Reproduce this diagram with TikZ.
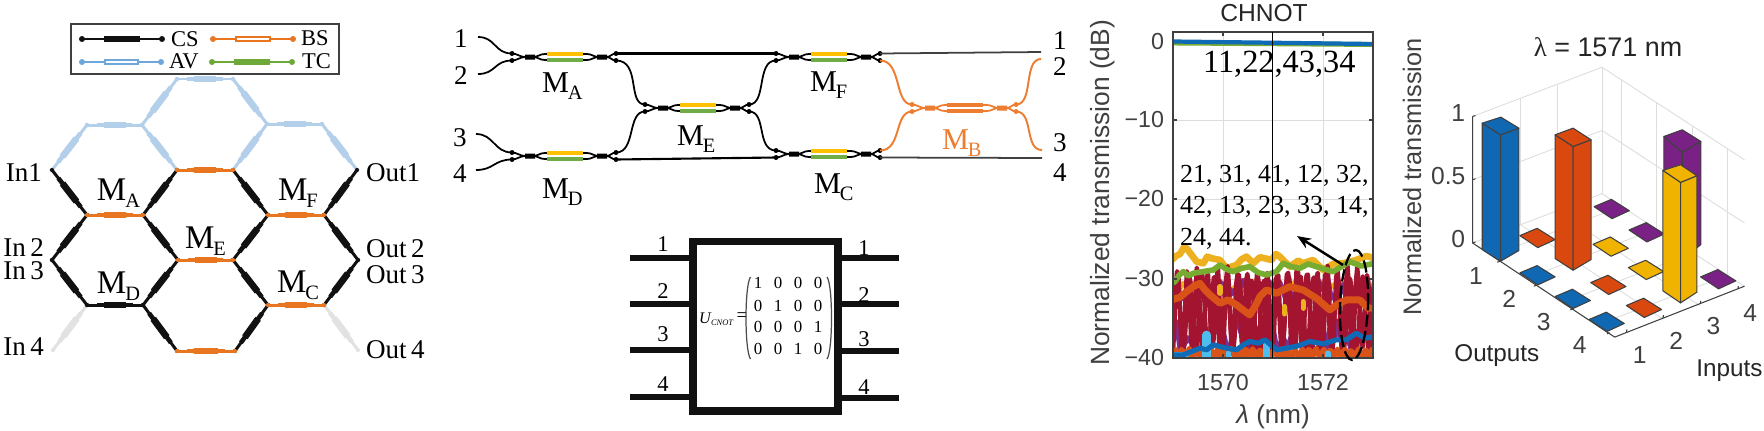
\documentclass[tikz,border=0pt]{standalone}
\usepackage{fontspec}
\setmainfont{Liberation Serif}
\setsansfont{Liberation Sans}
\usetikzlibrary{calc,arrows.meta,shapes.geometric}
\definecolor{hexblue}{HTML}{B3CFEA}
\definecolor{hexorange}{HTML}{E8751F}
\definecolor{hexgrey}{HTML}{E2E2E2}
\definecolor{hexblack}{HTML}{111111}
\definecolor{legblue}{HTML}{6FA6DC}
\definecolor{leggreen}{HTML}{6CA938}
\definecolor{armyellow}{HTML}{FFC000}
\definecolor{armgreen}{HTML}{70AD47}
\definecolor{armorange}{HTML}{ED7D31}
\definecolor{axdark}{HTML}{404040}
\definecolor{grid}{HTML}{DDDDDD}
\definecolor{tblue}{HTML}{0F6BB5}
\definecolor{tgreen}{HTML}{77AC30}
\definecolor{tyellow}{HTML}{EDB120}
\definecolor{tpurple}{HTML}{7E2F8E}
\definecolor{tred}{HTML}{A2142F}
\definecolor{torange}{HTML}{D95319}
\definecolor{tlight}{HTML}{4DBEEE}
\definecolor{bblue}{HTML}{1068B2}
\definecolor{bred}{HTML}{D8480F}
\definecolor{byellow}{HTML}{F0B400}
\definecolor{bpurple}{HTML}{7A2186}
\newcommand\fs[1]{\fontsize{#1}{#1}\selectfont}
\newcommand\msub[2]{M\kern-.3pt\lower #2\hbox{\fs{5.8}#1}}
\tikzset{
  lbl/.style={inner sep=0pt,outer sep=0pt},
  serifa/.style={lbl,font=\fs{7.7}},
  serifm/.style={lbl,font=\fs{8.6},anchor=base west},
  serifbig/.style={lbl,font=\fs{9.4},anchor=base west},
  legtxt/.style={lbl,font=\fs{6.4}},
  wire/.style={line width=.5pt,black},
  chipnum/.style={lbl,font=\fs{6.4}},
  chipwire/.style={line width=1.6pt,hexblack},
  cell/.style={lbl,font=\fs{4.8},text=black},
  sans/.style={lbl,font=\fs{6.6}\sffamily,text=axdark},
  thintick/.style={line width=.3pt,axdark},
  gridline/.style={line width=.25pt,grid},
  barface/.style={draw=axdark,line width=.3pt,line join=round},
  spec/.style={line join=round,line cap=round},
}
% hexagon mesh edge: from, to, colour
\newcommand\hexedge[3]{%
  \draw[#3,line width=.85pt] (#1) -- (#2);
  \draw[#3,line width=1.3pt] ($(#1)!.18!(#2)$) -- ($(#1)!.82!(#2)$);
  \draw[#3,line width=1.9pt] ($(#1)!.3!(#2)$) -- ($(#1)!.7!(#2)$);
  \fill[#3] (#1) circle (.6pt) (#2) circle (.6pt);}
% legend symbol: left end, right end, colour, solid or hollow
\newcommand\legsym[4]{%
  \draw[#3,line width=.7pt] (#1) -- (#2);
  \fill[#3] (#1) circle (.85pt) (#2) circle (.85pt);
  \ifx#4s
    \draw[#3,line width=1.9pt] ($(#1)!.28!(#2)$) -- ($(#1)!.72!(#2)$);
  \else
    \draw[#3,line width=1.6pt] ($(#1)!.28!(#2)$) -- ($(#1)!.72!(#2)$);
    \draw[white,line width=.65pt] ($(#1)!.3!(#2)$) -- ($(#1)!.7!(#2)$);
  \fi}
% Mach-Zehnder cell: name, x, y, line colour, top arm, bottom arm
\newcommand\mzicell[6]{%
  \begin{scope}[shift={(#2,#3)}]
    \coordinate (#1-tl) at (0,-3.5);
    \coordinate (#1-bl) at (0,3.5);
    \coordinate (#1-tr) at (104,-3.5);
    \coordinate (#1-br) at (104,3.5);
    \draw[#4,line width=.5pt] (0,-3.5) .. controls (5,-3.5) and (8,0) .. (13,0) -- (23,0)
       .. controls (26,0) and (27,-3) .. (33,-3) -- (75,-3) .. controls (80,-3) and (82,0) .. (85,0)
       -- (95,0) .. controls (98,0) and (100,-3.5) .. (104,-3.5);
    \draw[#4,line width=.5pt] (0,3.5) .. controls (5,3.5) and (8,0) .. (13,0);
    \draw[#4,line width=.5pt] (23,0) .. controls (26,0) and (27,3) .. (33,3) -- (75,3) .. controls (80,3) and (82,0) .. (85,0);
    \draw[#4,line width=.5pt] (95,0) .. controls (98,0) and (100,3.5) .. (104,3.5);
    \fill[#4] (13,-2.5) rectangle (23,2.5) (85,-2.5) rectangle (95,2.5);
    \fill[#4] (0,-3.5) circle (.7pt) (0,3.5) circle (.7pt) (104,-3.5) circle (.7pt) (104,3.5) circle (.7pt);
    \draw[#5,line width=1.1pt] (35,-3) -- (71,-3);
    \draw[#6,line width=1.1pt] (35,3) -- (71,3);
  \end{scope}}
% noisy spectrum trace in zoom units
\newcommand\trace[4]{\draw[spec,#1,line width=#2] plot[domain=0:630,samples=#3] (\x,{#4});}
% flat tile of the 3-D chart, centre in zoom units
\newcommand\tile[3]{\filldraw[barface,fill=#3] (#1-52,#2-6) -- (#1,#2-28) -- (#1+54,#2+6) -- (#1+2,#2+30) -- cycle;}
% bar: colour, left, back, right, front corners of the top, height
\newcommand\tbar[6]{%
  \filldraw[barface,fill=#1] (#2) -- (#5) -- ++(0,#6) -- ($(#2)+(0,#6)$) -- cycle;
  \filldraw[barface,fill=#1] (#5) -- (#4) -- ($(#4)+(0,#6-12)$) -- ($(#5)+(0,#6)$) -- cycle;
  \filldraw[barface,fill=#1] (#2) -- (#3) -- (#4) -- (#5) -- cycle;}
\begin{document}
\begin{tikzpicture}[x=.01cm,y=-.01cm]
\useasboundingbox (0,0) rectangle (1764,430);
\fill[white] (0,0) rectangle (1764,430);

%% ---------------- panel a: hexagon mesh
\foreach \n/\p in {T1/{177,79},T2/{233,79},
  U1/{87,125},U2/{142,125},U3/{267,124},U4/{322,124},
  V1/{52,170},V2/{177,170},V3/{233,170},V4/{357,170},
  W1/{87,215},W2/{143,215},W3/{268,215},W4/{324,215},
  X1/{52,260},X2/{178,260},X3/{233,260},X4/{358,260},
  Y1/{87,305},Y2/{143,305},Y3/{268,305},Y4/{324,305},
  Z1/{53,350},Z2/{177,351},Z3/{235,351},Z4/{358,350}}
  {\coordinate (\n) at (\p);}
\foreach \a/\b in {V1/U1,U1/U2,U2/T1,T1/T2,T2/U3,U3/U4,U4/V4,U2/V2,V3/U3}
  {\hexedge{\a}{\b}{hexblue}}
\foreach \a/\b in {Z1/Y1,Y4/Z4}
  {\hexedge{\a}{\b}{hexgrey}}
\foreach \a/\b in {V1/W1,W1/X1,W2/V2,W2/X2,V3/W3,W3/X3,W4/V4,W4/X4,X1/Y1,Y1/Y2,Y2/X2,Y2/Z2,X3/Y3,Y3/Z3,Y4/X4}
  {\hexedge{\a}{\b}{hexblack}}
\foreach \a/\b in {V2/V3,W1/W2,W3/W4,X2/X3,Y3/Y4,Z2/Z3}
  {\hexedge{\a}{\b}{hexorange}}

\node[draw=axdark,line width=.5pt,fill=white,lbl,minimum width=2.68cm,minimum height=.5cm] (legend) at (205,49) {};
\coordinate (csa) at (82,39); \coordinate (csb) at (162,39);
\coordinate (bsa) at (213,39); \coordinate (bsb) at (293,39);
\coordinate (ava) at (82,62); \coordinate (avb) at (161,62);
\coordinate (tca) at (212,62); \coordinate (tcb) at (292,62);
\legsym{csa}{csb}{hexblack}{s}
\legsym{bsa}{bsb}{hexorange}{h}
\legsym{ava}{avb}{legblue}{h}
\legsym{tca}{tcb}{leggreen}{s}
\node[legtxt,anchor=base west] (tcs) at (171,46) {CS};
\node[legtxt,anchor=base west] (tbs) at (301,45) {BS};
\node[legtxt,anchor=base west] (tav) at (169,68) {AV};
\node[legtxt,anchor=base west] (ttc) at (302,68) {TC};

\node[serifa,anchor=base east] (in1) at (42,181) {In1};
\node[serifa,anchor=base east] (in2) at (44,256) {In\,2};
\node[serifa,anchor=base east] (in3) at (44,279) {In\,3};
\node[serifa,anchor=base east] (in4) at (44,355) {In\,4};
\node[serifa,anchor=base west] (ou1) at (366,181) {Out1};
\node[serifa,anchor=base west] (ou2) at (366,257) {Out\,2};
\node[serifa,anchor=base west] (ou3) at (366,283) {Out\,3};
\node[serifa,anchor=base west] (ou4) at (366,358) {Out\,4};
\node[serifbig] (ama) at (97,200) {\msub{A}{2pt}};
\node[serifbig] (amf) at (278,200) {\msub{F}{2pt}};
\node[serifbig] (ame) at (185,248) {\msub{E}{2pt}};
\node[serifbig] (amd) at (97,293) {\msub{D}{2pt}};
\node[serifbig] (amc) at (277,292) {\msub{C}{2pt}};

%% ---------------- panel b: interferometer circuit
\mzicell{MA}{512}{57}{black}{armyellow}{armgreen}
\mzicell{MF}{776}{57}{black}{armyellow}{armgreen}
\mzicell{ME}{645}{108}{black}{armyellow}{armgreen}
\mzicell{MD}{512}{156}{black}{armyellow}{armgreen}
\mzicell{MC}{776}{154}{black}{armyellow}{armgreen}
\mzicell{MB}{912}{108}{armorange}{armorange}{armorange}
\coordinate (b1) at (478,37); \coordinate (b2) at (478,74);
\coordinate (b3) at (476,134); \coordinate (b4) at (476,170);
\coordinate (e1) at (1041,52); \coordinate (e2) at (1041,59);
\coordinate (e3) at (1042,150); \coordinate (e4) at (1042,158);
\draw[wire] (b1) .. controls +(18,0) and +(-18,0) .. (MA-tl);
\draw[wire] (b2) .. controls +(18,0) and +(-18,0) .. (MA-bl);
\draw[wire] (b3) .. controls +(18,0) and +(-18,0) .. (MD-tl);
\draw[wire] (b4) .. controls +(18,0) and +(-18,0) .. (MD-bl);
\draw[wire,line width=.6pt] (MA-tr) -- (MF-tl);
\draw[wire,line width=.6pt] (MD-br) -- (MC-bl);
\draw[wire] (MA-br) .. controls +(25,0) and +(-18,0) .. (ME-tl);
\draw[wire] (MD-tr) .. controls +(20,0) and +(-18,0) .. (ME-bl);
\draw[wire] (ME-tr) .. controls +(18,0) and +(-20,0) .. (MF-bl);
\draw[wire] (ME-br) .. controls +(18,0) and +(-20,0) .. (MC-tl);
\draw[wire,black!75] (MF-tr) -- (e1);
\draw[wire,black!75] (MC-br) -- (e4);
\draw[armorange,line width=.55pt] (MF-br) .. controls +(22,0) and +(-18,0) .. (MB-tl);
\draw[armorange,line width=.55pt] (MC-tr) .. controls +(22,0) and +(-18,0) .. (MB-bl);
\draw[armorange,line width=.55pt] (MB-tr) .. controls +(18,0) and +(-18,0) .. (e2);
\draw[armorange,line width=.55pt] (MB-br) .. controls +(18,0) and +(-18,0) .. (e3);
\foreach \n/\t/\px/\py in {l1/1/461/47,l2/2/461/84,l3/3/460/146,l4/4/460/182,r1/1/1060/49,r2/2/1060/75,r3/3/1060/151,r4/4/1060/181}
  {\node[serifa,anchor=base] (\n) at (\px,\py) {\t};}
\node[serifm] (bma) at (542,92) {\msub{A}{2.2pt}};
\node[serifm] (bmf) at (810,91) {\msub{F}{2.2pt}};
\node[serifm] (bme) at (677,145) {\msub{E}{2.2pt}};
\node[serifm,text=armorange] (bmb) at (942,149) {\msub{B}{2.2pt}};
\node[serifm] (bmd) at (542,198) {\msub{D}{2.2pt}};
\node[serifm] (bmc) at (814,193) {\msub{C}{2.2pt}};

%% ---------------- panel c: chip with the CNOT matrix
\draw[hexblack,line width=2.25pt] (693,241.5) rectangle (837.7,411);
\coordinate (cl1) at (630,258); \coordinate (cl2) at (630,304); \coordinate (cl3) at (630,350); \coordinate (cl4) at (630,397);
\coordinate (cb1) at (690,258); \coordinate (cb2) at (690,304); \coordinate (cb3) at (690,350); \coordinate (cb4) at (690,397);
\coordinate (cd1) at (841,258); \coordinate (cd2) at (841,304); \coordinate (cd3) at (841,351); \coordinate (cd4) at (841,398);
\coordinate (cr1) at (899,258); \coordinate (cr2) at (899,304); \coordinate (cr3) at (899,351); \coordinate (cr4) at (899,398);
\foreach \i in {1,...,4}{\draw[chipwire] (cl\i) -- (cb\i); \draw[chipwire] (cd\i) -- (cr\i);}
\foreach \n/\t/\px/\py in {cn1/1/663/251,cn2/2/663/298,cn3/3/663/341,cn4/4/663/391,dn1/1/864/255,dn2/2/864/302,dn3/3/864/346,dn4/4/864/394}
  {\node[chipnum,anchor=base] (\n) at (\px,\py) {\t};}
\node[lbl,anchor=base west,font=\fs{4.6}\itshape] (ucn) at (699,323) {U\kern.1pt\lower.7pt\hbox{\fs{2.4}CNOT}};
\node[lbl,font=\fs{5.5}] (ueq) at (742,317) {=};
\foreach \r/\yy/\row in {1/283/{1,0,0,0},2/306/{0,1,0,0},3/327/{0,0,0,1},4/349/{0,0,1,0}}{
  \foreach \c [count=\k] in \row {
    \pgfmathsetmacro\xx{758+20*(\k-1)}
    \node[cell] (m\r\k) at (\xx,\yy) {\c};
  }}
\coordinate (pla) at (750.5,277); \coordinate (plb) at (750.5,359);
\coordinate (pra) at (827,277); \coordinate (prb) at (827,359);
\draw[black!70,line width=.35pt] (pla) .. controls +(-6,8) and +(-6,-8) .. (plb);
\draw[black!70,line width=.35pt] (pra) .. controls +(6,8) and +(6,-8) .. (prb);

%% ---------------- panel d: spectra
\foreach \g in {1223,1323}{\draw[gridline] (\g,32) -- (\g,358);}
\foreach \g in {120,199,279}{\draw[gridline] (1173,\g) -- (1373,\g);}
\begin{scope}[shift={(1170,240)},x=.0033333cm,y=-.0033333cm]
\clip (9,0) rectangle (609,354);
\pgfmathsetseed{4242}
\draw[spec,tyellow,line width=1.9pt] plot coordinates {(5,60)(18,48)(30,42)(42,22)(50,25)(65,45)(80,65)(100,70)(112,50)(125,55)(150,60)(170,85)(200,75)(215,58)(230,50)(250,70)(270,52)(285,55)(305,60)(318,42)(330,50)(360,80)(385,62)(400,70)(430,60)(460,90)(490,72)(520,70)(560,60)(590,48)(615,55)};
\trace{tyellow}{1.6pt}{50}{125+30*rnd}
\trace{tpurple}{1.5pt}{70}{120+60*rnd}
\trace{tpurple}{1.6pt}{60}{230+110*rnd}
\trace{tred}{1.25pt}{150}{212+(105+40*rnd)*sin(\x*12)}
\trace{tred}{1.15pt}{150}{222+(100+30*rnd)*sin(\x*9.7+60)}
\draw[spec,tyellow,line width=1.5pt] (345,200) -- (345,222) (400,185) -- (400,205) (150,140) -- (150,160);
\draw[spec,tgreen,line width=1.6pt] plot coordinates {(5,130)(15,125)(28,105)(40,95)(55,108)(70,100)(100,95)(130,90)(150,75)(170,88)(190,95)(215,85)(240,80)(265,98)(290,105)(320,95)(340,70)(365,80)(390,85)(415,72)(440,80)(490,95)(515,80)(540,65)(575,78)(615,70)};
\draw[spec,torange,line width=2pt] plot coordinates {(5,180)(30,172)(50,155)(70,140)(90,130)(105,150)(120,165)(150,190)(175,180)(200,195)(222,212)(240,225)(258,195)(270,170)(290,150)(320,160)(360,140)(400,150)(440,175)(480,210)(505,192)(530,180)(570,180)(595,205)(615,205)};
\trace{torange}{1.5pt}{110}{338+13*sin(\x*17)+6*rnd}
\draw[spec,tlight,line width=1.5pt] (5,345) -- (50,345);
\draw[spec,tlight,line width=2.4pt] (110,285) -- (110,350);
\draw[spec,tlight,line width=1.5pt] (175,340) -- (175,352);
\draw[spec,tlight,line width=2.2pt] (290,315) -- (290,352);
\draw[spec,tlight,line width=1.5pt] (475,340) -- (475,352);
\draw[spec,tblue,line width=1.45pt] plot coordinates {(5,345)(40,345)(65,335)(90,325)(110,330)(130,315)(170,325)(200,330)(220,315)(240,305)(265,310)(285,300)(320,330)(350,325)(385,318)(420,305)(460,312)(500,300)(530,300)(560,280)(585,295)(615,290)};
\end{scope}
\begin{scope}
\clip (1173,32) rectangle (1373,358);
\draw[tgreen,line width=1.4pt] (1173,43) -- (1373,44.5);
\draw[tblue,line width=1.2pt] (1173,41.5) -- (1373,44);
\end{scope}
\node[lbl,minimum width=2cm,minimum height=3.26cm,draw=axdark,line width=.6pt] (box) at (1273,195) {};
\coordinate (mk1) at (1272,32); \coordinate (mk2) at (1272,358);
\draw[black,line width=.25pt] (mk1) -- (mk2);
\foreach \g in {120,199,279}{\draw[thintick] (1173,\g) -- +(4,0); \draw[thintick] (1373,\g) -- +(-4,0);}
\foreach \g in {1223,1323}{\draw[thintick] (\g,358) -- +(0,-4); \draw[thintick] (\g,32) -- +(0,4);}
\foreach \n/\t/\yy in {y0/0/42,y1/−10/120,y2/−20/199,y3/−30/279,y4/−40/358}
  {\node[sans,anchor=east] (\n) at (1164,\yy) {\t};}
\node[sans] (x1) at (1223,383) {1570};
\node[sans] (x2) at (1323,383) {1572};
\node[lbl,font=\fs{7.5}\sffamily,text=axdark,rotate=90] (dyl) at (1103,193) {Normalized transmission (dB)};
\node[lbl,font=\fs{7}\sffamily,text=black!85] (dtt) at (1264,13) {CHNOT};
\node[lbl,font=\fs{7.4}\sffamily,text=axdark] (dxl) at (1273,417) {{\itshape λ} (nm)};
\node[lbl,anchor=base west,font=\fs{9.2}] (tw) at (1203,72) {11,22,43,34};
\node[lbl,anchor=base west,font=\fs{7.4}] (lo1) at (1180,182) {21, 31, 41, 12, 32,};
\node[lbl,anchor=base west,font=\fs{7.4}] (lo2) at (1180,213) {42, 13, 23, 33, 14,};
\node[lbl,anchor=base west,font=\fs{7.4}] (lo3) at (1180,245) {24, 44.};
\node[draw=black,dash pattern=on 3.5pt off 1.2pt,line width=.65pt,ellipse,lbl,minimum width=.28cm,minimum height=1.1cm,rotate=-2] (ell) at (1354,305) {};
\coordinate (arra) at (1343,265); \coordinate (arrb) at (1297,236);
\draw[black,line width=.7pt,-{Stealth[length=.14cm,width=.11cm]}] (arra) -- (arrb);

%% ---------------- panel e: 3-D bar chart (coordinates in 3x zoom units)
\begin{scope}[shift={(1400,0)},x=.0033333cm,y=-.0033333cm]
\foreach \v in {0,-190,-380}{
  \draw[gridline] (218,730+\v) -- (607,582+\v);
  \draw[gridline] (607,582+\v) -- (1035,860+\v);}
\foreach \px/\py in {362/675,473/635}{\draw[gridline] (\px,\py) -- (\px,\py-380);}
\foreach \px/\py in {607/582,665/620,770/688,880/760,985/827}{\draw[gridline] (\px,\py) -- (\px,\py-380);}
\foreach \px/\py in {665/620,770/688,880/760,985/827}{\draw[gridline] (\px,\py) -- (\px-389,\py+148);}
\foreach \px/\py in {362/675,473/635}{\draw[gridline] (\px,\py) -- (\px+427,\py+283);}
\coordinate (ax1) at (218,350); \coordinate (ax0) at (218,730);
\coordinate (flb) at (645,1013); \coordinate (flr) at (1035,860);
\draw[thintick] (ax1) -- (ax0) -- (flb) -- (flr);
\foreach \yy in {350,540,730}{\draw[thintick] (218,\yy) -- +(9,-3);}
\foreach \px/\py in {300/785,410/857,520/928,630/1000}{\draw[thintick] (\px,\py) -- +(-8,3);}
\foreach \px/\py in {680/998,790/955,902/912,1015/868}{\draw[thintick] (\px,\py) -- +(2,-8);}
\tbar{bpurple}{793,410}{848,390}{904,425}{848,458}{322}
\tile{635}{627}{bpurple}
\tile{740}{697}{bpurple}
\tile{632}{740}{byellow}
\tile{412}{714}{bred}
\tile{738}{810}{byellow}
\tile{955}{838}{bpurple}
\tile{625}{855}{bred}
\tile{412}{826}{bblue}
\tile{518}{897}{bblue}
\tile{732}{924}{bred}
\tile{620}{966}{bblue}
\tbar{bred}{466,405}{520,385}{574,420}{520,440}{372}
\tbar{bblue}{247,370}{303,352}{357,385}{302,405}{380}
\tbar{byellow}{790,512}{843,495}{892,528}{843,548}{362}
\node[lbl,font=\fs{7.65}\sffamily,text=black!85] (ett) at (625,143) {{\rmfamily λ} = 1571 nm};
\node[lbl,font=\fs{7.2}\sffamily,text=axdark,rotate=90] (eyl) at (36,532) {Normalized transmission};
\foreach \n/\t/\px/\py in {z1/1/175/340,z2/0.5/145/530,z3/0/175/718,o1/1/228/828,o2/2/328/897,o3/3/432/967,o4/4/540/1038,i1/1/720/1067,i2/2/830/1025,i3/3/942/980,i4/4/1052/940}
  {\node[sans,font=\fs{7}\sffamily] (\n) at (\px,\py) {\t};}
\node[lbl,font=\fs{6.9}\sffamily,text=black!85] (eot) at (291,1068) {Outputs};
\node[lbl,font=\fs{6.9}\sffamily,text=black!85] (ein) at (990,1113) {Inputs};
\end{scope}
\end{tikzpicture}
\end{document}
